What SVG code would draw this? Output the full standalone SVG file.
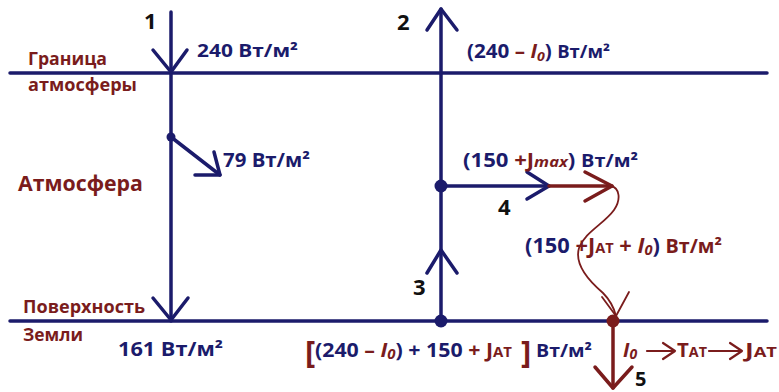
<svg xmlns="http://www.w3.org/2000/svg" width="779" height="392" viewBox="0 0 779 392">
<style>
.t{font-family:"Open Sans","Liberation Sans",sans-serif;font-weight:700}
.n{fill:#1b1b6b}
.r{fill:#7a1c1c}
.k{fill:#111111}
.i{font-style:italic}
.ln{stroke:#1b1b6b;stroke-width:3.5;fill:none;stroke-linecap:round;stroke-linejoin:round}
.lr{stroke:#7a1c1c;stroke-width:3.5;fill:none;stroke-linecap:round;stroke-linejoin:round}
.lw{stroke:#7a1c1c;stroke-width:1.8;fill:none;stroke-linecap:round;stroke-linejoin:round}
.la{stroke:#7a1c1c;stroke-width:2.2;fill:none;stroke-linecap:round;stroke-linejoin:round}
</style>
<rect width="779" height="392" fill="#ffffff"/>

<g id="connectors">
  <path class="ln" d="M10 73 H767"/>
  <path class="ln" d="M10 321 H767"/>
  <path class="ln" d="M171 12 V321"/>
  <path class="ln" d="M153 50 L171 72 L187 50"/>
  <path class="ln" d="M153 298 L171 320 L188 298"/>
  <path class="ln" d="M171 137 L220 175"/>
  <path class="ln" d="M195 175 L220 175 L214 152"/>
  <path class="ln" d="M441 9 V321"/>
  <path class="ln" d="M427 30 L441 9 L457 30"/>
  <path class="ln" d="M427 273 L441 250 L457 273"/>
  <path class="ln" d="M441 186 H549"/>
  <path class="ln" d="M527 172 L549 186 L527 199"/>
  <path class="lr" d="M549 186 H612"/>
  <path class="lr" d="M585 172 L612 186 L585 201"/>
  <path class="lw" d="M611 186 C620 188 621 200 614 210 C604 224 585 232 579 248 C574 265 590 282 603 293 C610 300 614 308 616 316"/>
  <path class="lw" d="M602 297 L616 316 L629 292"/>
  <path class="lr" d="M613 321 V388"/>
  <path class="lr" d="M595 367 L613 388 L632 367"/>
  <path class="la" d="M647 351 H675 M663 343 L675 351 L663 359"/>
  <path class="la" d="M709 351 H742 M730 343 L742 351 L730 359"/>
</g>

<g id="dots">
  <circle cx="171" cy="137" r="4.5" fill="#1b1b6b"/>
  <circle cx="441" cy="186" r="6.5" fill="#1b1b6b"/>
  <circle cx="441" cy="321" r="6.5" fill="#1b1b6b"/>
  <circle cx="613" cy="321" r="6.5" fill="#7a1c1c"/>
</g>

<g id="labels-regions">
  <text class="t r" x="28" y="65" font-size="18" textLength="79" lengthAdjust="spacingAndGlyphs">Граница</text>
  <text class="t r" x="28" y="91" font-size="18" textLength="109" lengthAdjust="spacingAndGlyphs">атмосферы</text>
  <text class="t r" x="18" y="191" font-size="22" textLength="125" lengthAdjust="spacingAndGlyphs">Атмосфера</text>
  <text class="t r" x="23" y="313" font-size="18" textLength="122" lengthAdjust="spacingAndGlyphs">Поверхность</text>
  <text class="t r" x="23" y="341" font-size="18" textLength="60" lengthAdjust="spacingAndGlyphs">Земли</text>
</g>

<g id="node-1">
  <text class="t k" x="144" y="29" font-size="22">1</text>
  <text class="t n" x="197" y="57" font-size="18" textLength="101" lengthAdjust="spacingAndGlyphs">240 Вт/м²</text>
</g>

<g id="node-79">
  <text class="t n" x="223" y="167" font-size="19" textLength="87" lengthAdjust="spacingAndGlyphs">79 Вт/м²</text>
</g>

<g id="node-161">
  <text class="t n" x="118" y="356" font-size="19" textLength="105" lengthAdjust="spacingAndGlyphs">161 Вт/м²</text>
</g>

<g id="node-2">
  <text class="t k" x="397" y="30" font-size="22">2</text>
  <text class="t n" x="467" y="58" font-size="19" textLength="143" lengthAdjust="spacingAndGlyphs">(240 <tspan class="r">– </tspan><tspan class="r i">I</tspan><tspan class="r i" font-size="13" dy="3">0</tspan><tspan dy="-3">) </tspan><tspan font-size="17">Вт/м²</tspan></text>
</g>

<g id="node-4">
  <text class="t n" x="463" y="167" font-size="20" textLength="175" lengthAdjust="spacingAndGlyphs">(150 <tspan class="r">+J</tspan><tspan class="r i" font-size="15">max</tspan>) <tspan font-size="18">Вт/м²</tspan></text>
  <text class="t k" x="498" y="215" font-size="22">4</text>
</g>

<g id="node-wave">
  <text class="t n" x="525" y="253" font-size="21" textLength="197" lengthAdjust="spacingAndGlyphs">(150 <tspan class="r">+J</tspan><tspan class="r" font-size="14">AT</tspan><tspan class="r"> + </tspan><tspan class="r i">I</tspan><tspan class="r i" font-size="14" dy="2">0</tspan><tspan dy="-2">) </tspan><tspan class="r" font-size="19">Вт/м²</tspan></text>
</g>

<g id="node-3">
  <text class="t k" x="413" y="295" font-size="22">3</text>
</g>

<g id="node-sum">
  <text class="t r" x="305" y="363" font-size="31" font-weight="400">[</text>
  <text class="t n" x="315" y="357" font-size="20" textLength="197" lengthAdjust="spacingAndGlyphs">(240 <tspan class="r">– </tspan><tspan class="r i">I</tspan><tspan class="r i" font-size="14" dy="2">0</tspan><tspan dy="-2">) + 150 </tspan><tspan class="r">+ J</tspan><tspan class="r" font-size="14">AT</tspan></text>
  <text class="t r" x="521" y="363" font-size="31" font-weight="400">]</text>
  <text class="t n" x="536" y="357" font-size="18" textLength="56" lengthAdjust="spacingAndGlyphs">Вт/м²</text>
</g>

<g id="node-5">
  <text class="t r i" x="623" y="357" font-size="20">I<tspan font-size="14" dy="2">0</tspan></text>
  <text class="t r" x="677" y="357" font-size="20" textLength="30" lengthAdjust="spacingAndGlyphs">T<tspan font-size="14">AT</tspan></text>
  <text class="t r" x="745" y="357" font-size="20" textLength="32" lengthAdjust="spacingAndGlyphs">J<tspan font-size="14">AT</tspan></text>
  <text class="t k" x="635" y="386" font-size="20">5</text>
</g>
</svg>
